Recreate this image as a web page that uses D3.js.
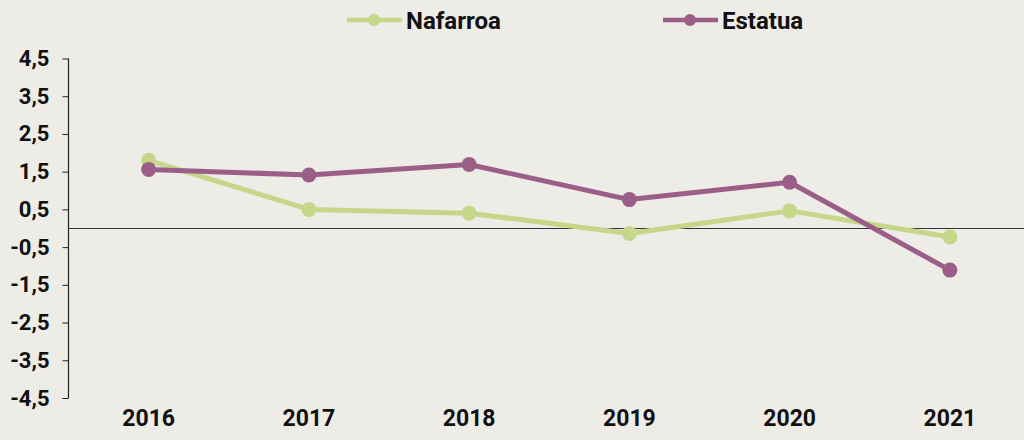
<!DOCTYPE html>
<html>
<head>
<meta charset="utf-8">
<script src="https://cdn.jsdelivr.net/npm/d3@7"></script>
<style>
  html, body { margin: 0; padding: 0; background: #edece7; }
  svg { display: block; font-family: Roboto, "DejaVu Sans", sans-serif; font-weight: 700; }
</style>
</head>
<body>
<div id="chart"></div>
<script>
// Data
var years = ["2016", "2017", "2018", "2019", "2020", "2021"];
var nafarroa = [1.8, 0.5, 0.4, -0.14, 0.46, -0.23];
var estatua = [1.56, 1.41, 1.69, 0.76, 1.22, -1.11];
var yTicks = [4.5, 3.5, 2.5, 1.5, 0.5, -0.5, -1.5, -2.5, -3.5, -4.5];
var seriesNames = ["Nafarroa", "Estatua"];
var seriesColors = ["#c6d78a", "#9b5f87"];

var svgWidth = 1024;
var svgHeight = 440;

var margin = { top: 58.5, right: 0, bottom: 42, left: 68.5 };

var svg = d3.select("#chart")
  .append("svg")
  .attr("width", svgWidth)
  .attr("height", svgHeight);

svg.append("rect")
  .attr("width", svgWidth)
  .attr("height", svgHeight)
  .attr("fill", "#edece7");

var xScale = d3.scaleBand()
  .domain(years)
  .range([margin.left, 1030]);

var yScale = d3.scaleLinear()
  .domain([-4.5, 4.5])
  .range([svgHeight - margin.bottom, margin.top]);

// y axis
var leftAxis = d3.axisLeft(yScale)
  .tickValues(yTicks)
  .tickSize(6)
  .tickPadding(13)
  .tickFormat(d => d3.format(".1f")(d).replace(".", ",").replace("−", "-"));

var yAxisG = svg.append("g")
  .attr("transform", `translate(${margin.left}, 0)`)
  .call(leftAxis);
yAxisG.select(".domain").attr("stroke", "#222").attr("stroke-width", 1.2)
  .attr("d", `M-0,${yScale(4.5)}H0V${yScale(-4.5)}H-0`);
yAxisG.selectAll(".tick line").attr("stroke", "#222");
yAxisG.selectAll("text")
  .attr("fill", "#111")
  .style("font-size", "22px")
  .style("font-family", "Roboto, sans-serif")
  .style("font-weight", 700);

// x axis labels
var bottomAxis = d3.axisBottom(xScale).tickSize(0).tickPadding(0);
var xAxisG = svg.append("g")
  .attr("transform", `translate(0, ${svgHeight - 30})`)
  .call(bottomAxis);
xAxisG.select(".domain").remove();
xAxisG.selectAll("text")
  .attr("fill", "#111")
  .attr("dy", "0.71em")
  .attr("y", 0)
  .style("font-size", "23px")
  .style("font-family", "Roboto, sans-serif")
  .style("font-weight", 700);

// zero line
svg.append("line")
  .attr("x1", margin.left)
  .attr("x2", svgWidth)
  .attr("y1", Math.round(yScale(0)) + 0.5)
  .attr("y2", Math.round(yScale(0)) + 0.5)
  .attr("stroke", "#333")
  .attr("stroke-width", 1.2);

// series
var allSeries = [nafarroa, estatua];
var line = d3.line()
  .x((d, i) => xScale(years[i]) + xScale.bandwidth() / 2)
  .y(d => yScale(d));

allSeries.forEach(function(values, s) {
  svg.append("path")
    .datum(values)
    .attr("fill", "none")
    .attr("stroke", seriesColors[s])
    .attr("stroke-width", 5)
    .attr("stroke-linejoin", "round")
    .attr("d", line);

  svg.selectAll(".dot" + s)
    .data(values)
    .enter()
    .append("circle")
    .attr("cx", (d, i) => xScale(years[i]) + xScale.bandwidth() / 2)
    .attr("cy", d => yScale(d))
    .attr("r", 7.5)
    .attr("fill", seriesColors[s]);
});

// legend
var legendX = [347, 663];
var legend = svg.selectAll(".legend")
  .data(seriesNames)
  .enter()
  .append("g")
  .attr("transform", (d, i) => `translate(${legendX[i]}, 20)`);

legend.append("line")
  .attr("x1", 0)
  .attr("x2", 55)
  .attr("stroke", (d, i) => seriesColors[i])
  .attr("stroke-width", 4.5);

legend.append("circle")
  .attr("cx", 27)
  .attr("r", 6)
  .attr("fill", (d, i) => seriesColors[i]);

legend.append("text")
  .attr("x", 59)
  .attr("dy", "0.36em")
  .attr("fill", "#111")
  .style("font-size", "24px")
  .text(d => d);
</script>
</body>
</html>
